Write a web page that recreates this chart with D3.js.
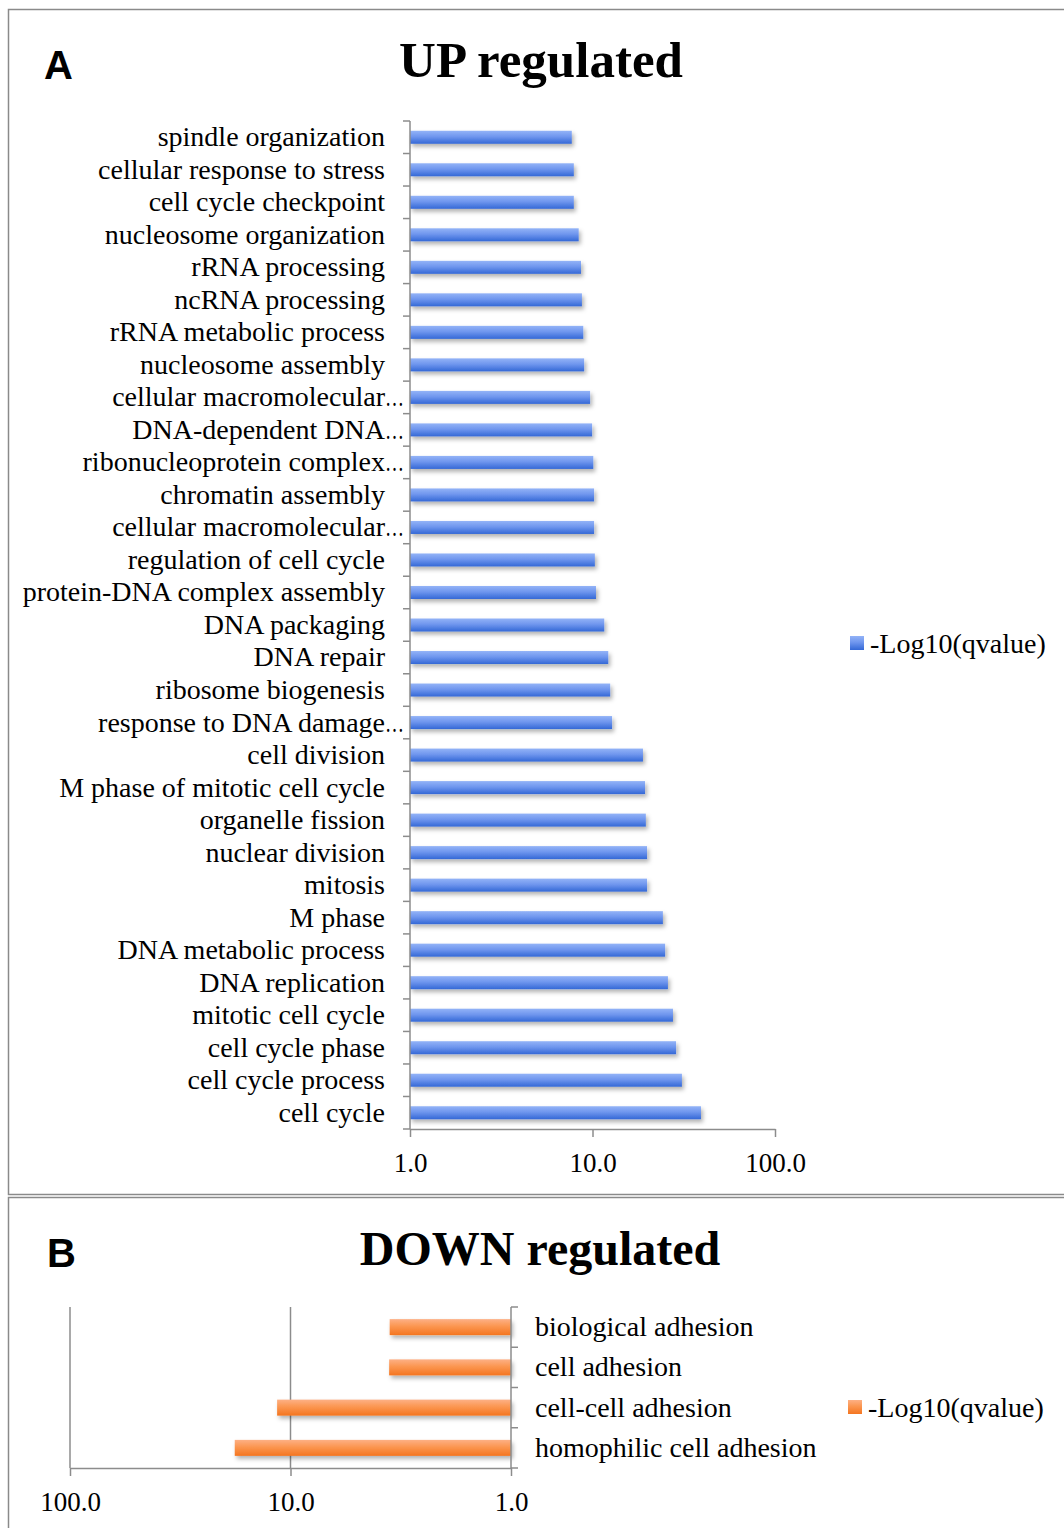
<!DOCTYPE html>
<html>
<head>
<meta charset="utf-8">
<script src="https://cdn.jsdelivr.net/npm/d3@7"></script>
<style>
  body { margin: 0; background: #fff; }
  svg { display: block; }
  text { font-family: "Liberation Serif", "Times New Roman", serif; fill: #000; }
</style>
</head>
<body>
<div id="chart"></div>
<script>
// ---- data ----
const upTerms = [
  'spindle organization', 'cellular response to stress', 'cell cycle checkpoint',
  'nucleosome organization', 'rRNA processing', 'ncRNA processing',
  'rRNA metabolic process', 'nucleosome assembly', 'cellular macromolecular…',
  'DNA-dependent DNA…', 'ribonucleoprotein complex…', 'chromatin assembly',
  'cellular macromolecular…', 'regulation of cell cycle', 'protein-DNA complex assembly',
  'DNA packaging', 'DNA repair', 'ribosome biogenesis', 'response to DNA damage…',
  'cell division', 'M phase of mitotic cell cycle', 'organelle fission',
  'nuclear division', 'mitosis', 'M phase', 'DNA metabolic process',
  'DNA replication', 'mitotic cell cycle', 'cell cycle phase',
  'cell cycle process', 'cell cycle'
]
const upValues = [
  7.7, 7.9, 7.9, 8.4, 8.65, 8.75, 8.9, 9.0, 9.7, 9.95, 10.1, 10.2, 10.2, 10.3, 10.45,
  11.6, 12.2, 12.5, 12.8, 18.9, 19.4, 19.6, 19.9, 19.9, 24.3, 25.0, 25.9, 27.6,
  28.7, 30.9, 39.3
]
const downTerms = ['biological adhesion', 'cell adhesion', 'cell-cell adhesion', 'homophilic cell adhesion']
const downValues = [3.55, 3.57, 11.5, 17.9]
const axisTicks = [1, 10, 100]
const seriesName = '-Log10(qvalue)'

const W = 1064, H = 1528
const gridColor = '#8c8c8c'

const svg = d3.select('#chart').append('svg')
    .attr('width', W)
    .attr('height', H)

// gradients + shadow
const defs = svg.append('defs')
function addGradient(id, top, mid, bottom) {
    let g = defs.append('linearGradient')
        .attr('id', id)
        .attr('x1', 0).attr('y1', 0).attr('x2', 0).attr('y2', 1)
    g.append('stop').attr('offset', '0%').attr('stop-color', top)
    g.append('stop').attr('offset', '45%').attr('stop-color', mid)
    g.append('stop').attr('offset', '100%').attr('stop-color', bottom)
}
addGradient('blueGrad', '#93b3f7', '#6f96ee', '#3468d6')
addGradient('orangeGrad', '#fdb085', '#fb9650', '#f47520')

defs.append('filter')
    .attr('id', 'shadow')
    .attr('x', '-5%').attr('y', '-50%').attr('width', '115%').attr('height', '250%')
    .append('feDropShadow')
    .attr('dx', 2).attr('dy', 3).attr('stdDeviation', 2)
    .attr('flood-color', '#000').attr('flood-opacity', 0.3)

// panel frames
svg.append('rect')
    .attr('x', 8.5).attr('y', 9.5).attr('width', 1080).attr('height', 1185)
    .attr('fill', 'none').attr('stroke', '#8a8a8a').attr('stroke-width', 1.5)
svg.append('rect')
    .attr('x', 8.5).attr('y', 1197.5).attr('width', 1080).attr('height', 400)
    .attr('fill', 'none').attr('stroke', '#8a8a8a').attr('stroke-width', 1.5)

// ================= Panel A =================
const xA = d3.scaleLog().domain([1, 100]).range([410, 775])
const yA = d3.scaleBand().domain(d3.range(upTerms.length)).range([121, 1129])

svg.append('text')
    .attr('x', 44).attr('y', 79)
    .style('font-family', '"Liberation Sans", Arial, sans-serif')
    .style('font-weight', 'bold').style('font-size', '40px')
    .text('A')

svg.append('text')
    .attr('x', 541).attr('y', 77)
    .attr('text-anchor', 'middle')
    .style('font-weight', 'bold').style('font-size', '51px')
    .text('UP regulated')

let gA = svg.append('g')

gA.selectAll('.bar-up')
    .data(upValues)
    .enter()
    .append('rect')
    .attr('class', 'bar-up')
    .attr('x', xA(1))
    .attr('y', (d, i) => yA(i) + yA.bandwidth() / 2 - 6.5)
    .attr('width', d => xA(d) - xA(1))
    .attr('height', 13)
    .attr('fill', 'url(#blueGrad)')
    .attr('filter', 'url(#shadow)')

// category axis (ticks at band edges)
let edgesA = d3.range(upTerms.length + 1).map(i => yA.range()[0] + i * yA.step())
gA.append('line')
    .attr('x1', xA(1)).attr('x2', xA(1))
    .attr('y1', yA.range()[0]).attr('y2', yA.range()[1])
    .attr('stroke', gridColor).attr('stroke-width', 1.5)
gA.selectAll('.ytick-a')
    .data(edgesA)
    .enter()
    .append('line')
    .attr('class', 'ytick-a')
    .attr('x1', xA(1) - 7).attr('x2', xA(1))
    .attr('y1', d => d).attr('y2', d => d)
    .attr('stroke', gridColor).attr('stroke-width', 1.5)

// labels, truncated ones overflow with the ellipsis like Excel does
let labelsA = gA.selectAll('.label-up')
    .data(upTerms)
    .enter()
    .append('g')
    .attr('class', 'label-up')
    .attr('transform', (d, i) => `translate(385, ${yA(i) + yA.bandwidth() / 2})`)
labelsA.append('text')
    .attr('text-anchor', 'end')
    .attr('dy', '0.32em')
    .style('font-size', '28px')
    .text(d => d.replace('…', ''))
labelsA.filter(d => d.endsWith('…'))
    .append('text')
    .attr('dy', '0.32em')
    .attr('textLength', 19)
    .attr('lengthAdjust', 'spacingAndGlyphs')
    .style('font-size', '28px')
    .text('…')

// value axis
let axA = gA.append('g')
    .attr('transform', `translate(0, ${yA.range()[1]})`)
    .call(d3.axisBottom(xA).tickValues(axisTicks).tickFormat(d3.format('.1f')).tickSize(8).tickSizeOuter(0))
axA.select('.domain').attr('stroke', gridColor).attr('stroke-width', 1.5)
axA.selectAll('.tick line').attr('stroke', gridColor).attr('stroke-width', 1.5)
axA.selectAll('.tick text')
    .attr('y', 24)
    .style('font-family', '"Liberation Serif", serif')
    .style('font-size', '27px')
    .attr('fill', '#000')

// legend A
let legA = svg.append('g').attr('transform', 'translate(850, 636)')
legA.append('rect').attr('width', 14).attr('height', 14).attr('fill', 'url(#blueGrad)')
legA.append('text').attr('x', 20).attr('y', 7).attr('dy', '0.34em')
    .style('font-size', '28px').text(seriesName)

// ================= Panel B =================
const xB = d3.scaleLog().domain([1, 100]).range([511, 70])
const yB = d3.scaleBand().domain(d3.range(downTerms.length)).range([1307, 1468])

svg.append('text')
    .attr('x', 47).attr('y', 1267)
    .style('font-family', '"Liberation Sans", Arial, sans-serif')
    .style('font-weight', 'bold').style('font-size', '40px')
    .text('B')

svg.append('text')
    .attr('x', 540).attr('y', 1265)
    .attr('text-anchor', 'middle')
    .style('font-weight', 'bold').style('font-size', '48px')
    .text('DOWN regulated')

let gB = svg.append('g')

// gridlines at 10 and 100
gB.selectAll('.grid-b')
    .data(axisTicks.filter(d => d > 1))
    .enter()
    .append('line')
    .attr('class', 'grid-b')
    .attr('x1', d => xB(d)).attr('x2', d => xB(d))
    .attr('y1', yB.range()[0]).attr('y2', yB.range()[1])
    .attr('stroke', gridColor).attr('stroke-width', 1.5)

gB.selectAll('.bar-down')
    .data(downValues)
    .enter()
    .append('rect')
    .attr('class', 'bar-down')
    .attr('x', d => xB(d))
    .attr('y', (d, i) => yB(i) + yB.bandwidth() / 2 - 8)
    .attr('width', d => xB(1) - xB(d))
    .attr('height', 16)
    .attr('fill', 'url(#orangeGrad)')
    .attr('filter', 'url(#shadow)')

let edgesB = d3.range(downTerms.length + 1).map(i => yB.range()[0] + i * yB.step())
gB.append('line')
    .attr('x1', xB(1)).attr('x2', xB(1))
    .attr('y1', yB.range()[0]).attr('y2', yB.range()[1])
    .attr('stroke', gridColor).attr('stroke-width', 1.5)
gB.selectAll('.ytick-b')
    .data(edgesB)
    .enter()
    .append('line')
    .attr('class', 'ytick-b')
    .attr('x1', xB(1)).attr('x2', xB(1) + 7)
    .attr('y1', d => d).attr('y2', d => d)
    .attr('stroke', gridColor).attr('stroke-width', 1.5)

let axB = gB.append('g')
    .attr('transform', `translate(0, ${yB.range()[1]})`)
    .call(d3.axisBottom(xB).tickValues(axisTicks).tickFormat(d3.format('.1f')).tickSize(8).tickSizeOuter(0))
axB.select('.domain').attr('stroke', gridColor).attr('stroke-width', 1.5)
axB.selectAll('.tick line').attr('stroke', gridColor).attr('stroke-width', 1.5)
axB.selectAll('.tick text')
    .attr('y', 24)
    .style('font-family', '"Liberation Serif", serif')
    .style('font-size', '27px')
    .attr('fill', '#000')

gB.selectAll('.label-down')
    .data(downTerms)
    .enter()
    .append('text')
    .attr('class', 'label-down')
    .attr('x', 535)
    .attr('y', (d, i) => yB(i) + yB.bandwidth() / 2)
    .attr('dy', '0.32em')
    .style('font-size', '28px')
    .text(d => d)

// legend B
let legB = svg.append('g').attr('transform', 'translate(848, 1400)')
legB.append('rect').attr('width', 14).attr('height', 14).attr('fill', 'url(#orangeGrad)')
legB.append('text').attr('x', 20).attr('y', 7).attr('dy', '0.34em')
    .style('font-size', '28px').text(seriesName)
</script>
</body>
</html>
